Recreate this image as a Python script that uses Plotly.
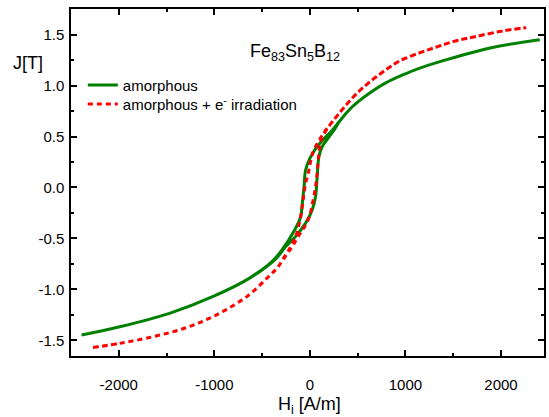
import plotly.graph_objects as go

# amorphous: ascending branch (H increasing) and descending branch (H decreasing)
amor_up_H = [-2389, -1990, -1469, -1018, -635, -357, -253, -149, -45, 24, 59, 76, 94, 128, 180, 250, 310, 441, 615, 789, 997, 1101, 1378, 1899, 2406]
amor_up_J = [-1.448, -1.367, -1.235, -1.072, -0.892, -0.70, -0.58, -0.48, -0.35, -0.22, -0.09, 0.10, 0.30, 0.40, 0.47, 0.56, 0.65, 0.79, 0.92, 1.025, 1.115, 1.155, 1.24, 1.372, 1.451]
amor_dn_H = [2406, 1899, 1378, 1101, 997, 789, 615, 441, 310, 232, 128, 59, -3, -45, -62, -80, -97, -167, -290, -400, -635, -1018, -1469, -1990, -2389]
amor_dn_J = [1.451, 1.372, 1.24, 1.155, 1.115, 1.025, 0.92, 0.79, 0.65, 0.56, 0.46, 0.38, 0.28, 0.17, 0.0, -0.16, -0.29, -0.43, -0.61, -0.73, -0.89, -1.072, -1.235, -1.367, -1.448]

# amorphous + e- irradiation
irr_up_H = [-2285, -1990, -1643, -1295, -982, -653, -445, -341, -260, -184, -122, -52, -3, 24, 59, 76, 94, 111, 163, 240, 326, 417, 517, 625, 729, 833, 945, 1153, 1344, 1518, 1726, 2038, 2264]
irr_up_J = [-1.572, -1.53, -1.465, -1.376, -1.252, -1.066, -0.886, -0.788, -0.68, -0.58, -0.48, -0.38, -0.28, -0.17, 0.006, 0.14, 0.33, 0.45, 0.55, 0.65, 0.75, 0.85, 0.947, 1.035, 1.11, 1.18, 1.245, 1.323, 1.385, 1.437, 1.48, 1.54, 1.569]
irr_dn_H = [2264, 2038, 1726, 1518, 1344, 1153, 945, 833, 729, 625, 517, 417, 326, 240, 163, 100, 34, 7, -17, -45, -62, -80, -115, -149, -201, -260, -341, -445, -653, -982, -1295, -1643, -1990, -2285]
irr_dn_J = [1.569, 1.54, 1.48, 1.437, 1.385, 1.323, 1.245, 1.18, 1.11, 1.035, 0.947, 0.85, 0.75, 0.65, 0.56, 0.47, 0.35, 0.25, 0.14, 0.04, -0.06, -0.19, -0.37, -0.48, -0.58, -0.67, -0.788, -0.886, -1.066, -1.252, -1.376, -1.465, -1.53, -1.572]

x_tickvals = [-2000, -1000, 0, 1000, 2000]
x_ticktext = ["-2000", "-1000", "0", "1000", "2000"]
y_tickvals = [-1.5, -1.0, -0.5, 0.0, 0.5, 1.0, 1.5]
y_ticktext = ["-1.5", "-1.0", "-0.5", "0.0", "0.5", "1.0", "1.5"]

FONT = "Arial, Liberation Sans, sans-serif"

fig = go.Figure()
fig.add_trace(go.Scatter(x=amor_up_H + amor_dn_H, y=amor_up_J + amor_dn_J, mode="lines",
                         name="amorphous", legend="legend",
                         line=dict(color="#008000", width=3, shape="spline", smoothing=1.0)))
fig.add_trace(go.Scatter(x=irr_up_H + irr_dn_H, y=irr_up_J + irr_dn_J, mode="lines",
                         name="amorphous + e<sup>-</sup> irradiation", legend="legend2",
                         line=dict(color="#ff0000", width=3, dash="5px,4px", shape="spline", smoothing=1.0)))

axis_common = dict(showline=True, linecolor="black", linewidth=1.5, mirror="allticks",
                   ticks="inside", ticklen=6, tickwidth=1.5, tickcolor="black",
                   showgrid=False, zeroline=False,
                   tickfont=dict(family=FONT, size=15, color="black"))

fig.update_xaxes(range=[-2500, 2450], tickvals=x_tickvals, ticktext=x_ticktext,
                 minor=dict(ticks="inside", ticklen=3, tickwidth=1.5, tickcolor="black", dtick=500, tick0=0),
                 ticklabelstandoff=14, **axis_common)
fig.update_yaxes(range=[-1.654, 1.752], tickvals=y_tickvals, ticktext=y_ticktext,
                 minor=dict(ticks="inside", ticklen=3, tickwidth=1.5, tickcolor="black", dtick=0.25, tick0=0),
                 ticklabelstandoff=2, **axis_common)

legend_style = dict(xanchor="left", yanchor="top", bgcolor="rgba(0,0,0,0)",
                    font=dict(family=FONT, size=15, color="black"))

fig.update_layout(
    width=549, height=417,
    margin=dict(l=71, r=3, t=9, b=61),
    paper_bgcolor="white", plot_bgcolor="white",
    font=dict(family=FONT, size=15, color="black"),
    showlegend=True,
    legend=dict(x=0.025, y=0.828, **legend_style),
    legend2=dict(x=0.025, y=0.773, **legend_style),
    annotations=[
        dict(text="Fe<sub>83</sub>Sn<sub>5</sub>B<sub>12</sub>", xref="paper", yref="paper",
             x=0.473, y=0.874, xanchor="center", yanchor="middle", showarrow=False,
             font=dict(family=FONT, size=18, color="black")),
        dict(text="J[T]", xref="paper", yref="paper", x=-0.09, y=0.845,
             xanchor="center", yanchor="middle", showarrow=False,
             font=dict(family=FONT, size=18, color="black")),
        dict(text="H<sub>i</sub> [A/m]", xref="paper", yref="paper", x=0.505, y=-0.142,
             xanchor="center", yanchor="middle", showarrow=False,
             font=dict(family=FONT, size=18, color="black")),
    ],
)

fig.write_html("out.html", config={"displayModeBar": False},
               post_script="document.body.style.margin='0px';")
